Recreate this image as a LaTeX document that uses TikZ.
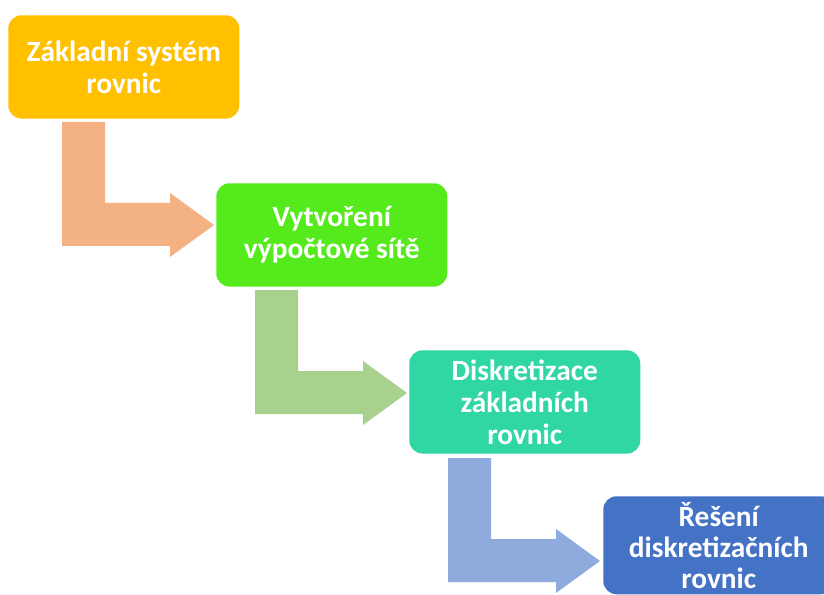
\documentclass[tikz,border=0pt]{standalone}
\usepackage{fontspec}
\setmainfont{Carlito}
\definecolor{boxA}{HTML}{FFC000}
\definecolor{boxB}{HTML}{55EA1B}
\definecolor{boxC}{HTML}{30D6A3}
\definecolor{boxD}{HTML}{4472C4}
\definecolor{arrA}{HTML}{F4B183}
\definecolor{arrB}{HTML}{A9D18E}
\definecolor{arrC}{HTML}{8FAADC}
\tikzset{
  stagebox/.style={rounded corners=10pt, minimum width=173.25pt, minimum height=77.5pt,
    inner sep=0pt, align=center, text=white,
    font=\fontsize{22}{24}\selectfont\bfseries, anchor=north west},
  pics/bentarrow/.style={code={
    \fill[#1] (0,0) -- (43,0) -- (43,81) -- (108,81) -- (108,71) -- (152,103)
      -- (108,135) -- (108,124) -- (0,124) -- cycle;
  }}
}
\begin{document}
\begin{tikzpicture}[x=0.75pt, y=-0.75pt]
  \useasboundingbox (0,0) rectangle (824,595);
  \clip (0,0) rectangle (824,595);
  \fill[white] (0,0) rectangle (824,595);
  % bent arrows between the stages
  \coordinate (a1) at (62,122);
  \coordinate (a2) at (255,290);
  \coordinate (a3) at (448,458);
  \pic at (a1) {bentarrow=arrA};
  \pic at (a2) {bentarrow=arrB};
  \pic at (a3) {bentarrow=arrC};
  % stages
  \node[stagebox, fill=boxA] (s1) at (8,15) {Základní systém\\rovnic};
  \node[stagebox, fill=boxB] (s2) at (216,183) {Vytvoření\\výpočtové sítě};
  \node[stagebox, fill=boxC] (s3) at (409,350) {Diskretizace\\základních\\rovnic};
  \node[stagebox, fill=boxD, minimum height=73.5pt,
        font=\fontsize{22}{23.2}\selectfont\bfseries] (s4) at (603,496)
        {Řešení\\diskretizačních\\rovnic};
\end{tikzpicture}
\end{document}
